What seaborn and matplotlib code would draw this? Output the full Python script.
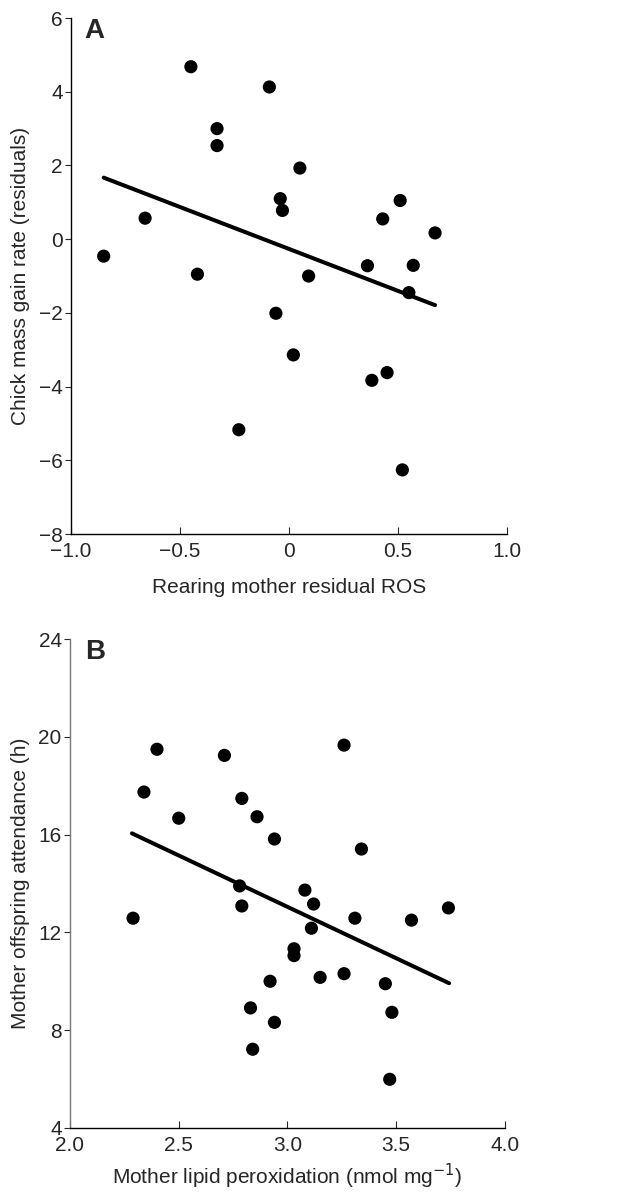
import numpy as np
import pandas as pd
import matplotlib
matplotlib.use("Agg")
import matplotlib.pyplot as plt
import seaborn as sns

# Panel A: rearing mother residual ROS vs chick mass gain rate (residuals)
ros_a = [-0.85, -0.66, -0.45, -0.42, -0.33, -0.33, -0.09, -0.04, -0.03, 0.05,
         0.09, -0.06, 0.36, 0.43, 0.51, 0.57, 0.55, 0.67, 0.02, 0.38,
         0.45, -0.23, 0.52]
gain_a = [-0.46, 0.57, 4.68, -0.95, 3.00, 2.54, 4.13, 1.10, 0.78, 1.93,
          -1.00, -2.01, -0.72, 0.55, 1.05, -0.71, -1.45, 0.17, -3.14, -3.83,
          -3.62, -5.17, -6.26]
fit_a_x = [-0.85, 0.67]
fit_a_y = [1.67, -1.79]

# Panel B: mother lipid peroxidation vs offspring attendance
lipid_b = [2.40, 2.34, 2.50, 2.71, 3.26, 2.79, 2.86, 2.94, 3.34, 2.78,
           2.79, 3.08, 3.12, 2.29, 3.31, 3.57, 3.74, 3.11, 3.03, 3.03,
           3.15, 3.26, 3.45, 2.92, 2.83, 2.94, 3.48, 2.84, 3.47]
attend_b = [19.49, 17.74, 16.67, 19.24, 19.66, 17.48, 16.73, 15.82, 15.41, 13.90,
            13.08, 13.73, 13.16, 12.58, 12.58, 12.50, 13.00, 12.17, 11.33, 11.05,
            10.16, 10.31, 9.90, 10.00, 8.91, 8.32, 8.73, 7.22, 5.99]
fit_b_x = [2.285, 3.743]
fit_b_y = [16.05, 9.92]

sns.set_theme(style="ticks")
plt.rcParams['font.family'] = ['Liberation Sans', 'DejaVu Sans']

fig = plt.figure(figsize=(6.21, 11.96), dpi=100)
ax_a = fig.add_axes([0.1143, 0.5535, 0.7021, 0.4314])
ax_b = fig.add_axes([0.1127, 0.0569, 0.7005, 0.4088])

df_a = pd.DataFrame({'ros': ros_a, 'gain': gain_a})
df_b = pd.DataFrame({'lipid': lipid_b, 'attend': attend_b})

sns.scatterplot(data=df_a, x='ros', y='gain', ax=ax_a, color='black', s=90,
                edgecolor='none', zorder=3)
sns.lineplot(x=fit_a_x, y=fit_a_y, ax=ax_a, color='black', linewidth=2.9)

sns.scatterplot(data=df_b, x='lipid', y='attend', ax=ax_b, color='black', s=90,
                edgecolor='none', zorder=3)
sns.lineplot(x=fit_b_x, y=fit_b_y, ax=ax_b, color='black', linewidth=2.9)

fs = 15
ax_a.set_xlim(-1.0, 1.0)
ax_a.set_ylim(-8, 6)
ax_a.set_xticks([-1.0, -0.5, 0, 0.5, 1.0])
ax_a.set_xticklabels(['\u22121.0', '\u22120.5', '0', '0.5', '1.0'])
ax_a.set_yticks([-8, -6, -4, -2, 0, 2, 4, 6])
ax_a.set_yticklabels(['\u22128', '\u22126', '\u22124', '\u22122', '0', '2', '4', '6'])
ax_a.set_xlabel('Rearing mother residual ROS', fontsize=fs, labelpad=12)
ax_a.set_ylabel('Chick mass gain rate (residuals)', fontsize=fs, labelpad=6)
ax_a.text(0.03, 1.0, 'A', transform=ax_a.transAxes, fontsize=20,
          fontweight='bold', va='top', ha='left')

ax_b.set_xlim(2.0, 4.0)
ax_b.set_ylim(4, 24)
ax_b.set_xticks([2.0, 2.5, 3.0, 3.5, 4.0])
ax_b.set_xticklabels(['2.0', '2.5', '3.0', '3.5', '4.0'])
ax_b.set_yticks([4, 8, 12, 16, 20, 24])
ax_b.set_xlabel('Mother lipid peroxidation (nmol mg$^{\u22121}$)', fontsize=fs, labelpad=5)
ax_b.set_ylabel('Mother offspring attendance (h)', fontsize=fs, labelpad=6)
ax_b.text(0.035, 1.0, 'B', transform=ax_b.transAxes, fontsize=20,
          fontweight='bold', va='top', ha='left')

for ax in (ax_a, ax_b):
    sns.despine(ax=ax)
    ax.spines['left'].set_linewidth(1.0)
    ax.spines['bottom'].set_linewidth(1.0)
    ax.spines['left'].set_color('black')
    ax.spines['bottom'].set_color('black')
    ax.tick_params(axis='y', direction='out', length=4, width=0.8, labelsize=fs, pad=2)
    ax.tick_params(axis='x', direction='in', length=5, width=0.8, labelsize=fs, pad=6)
    ax.grid(False)

ax_b.spines['left'].set_color('#777777')

fig.savefig('out.png', dpi=100)
